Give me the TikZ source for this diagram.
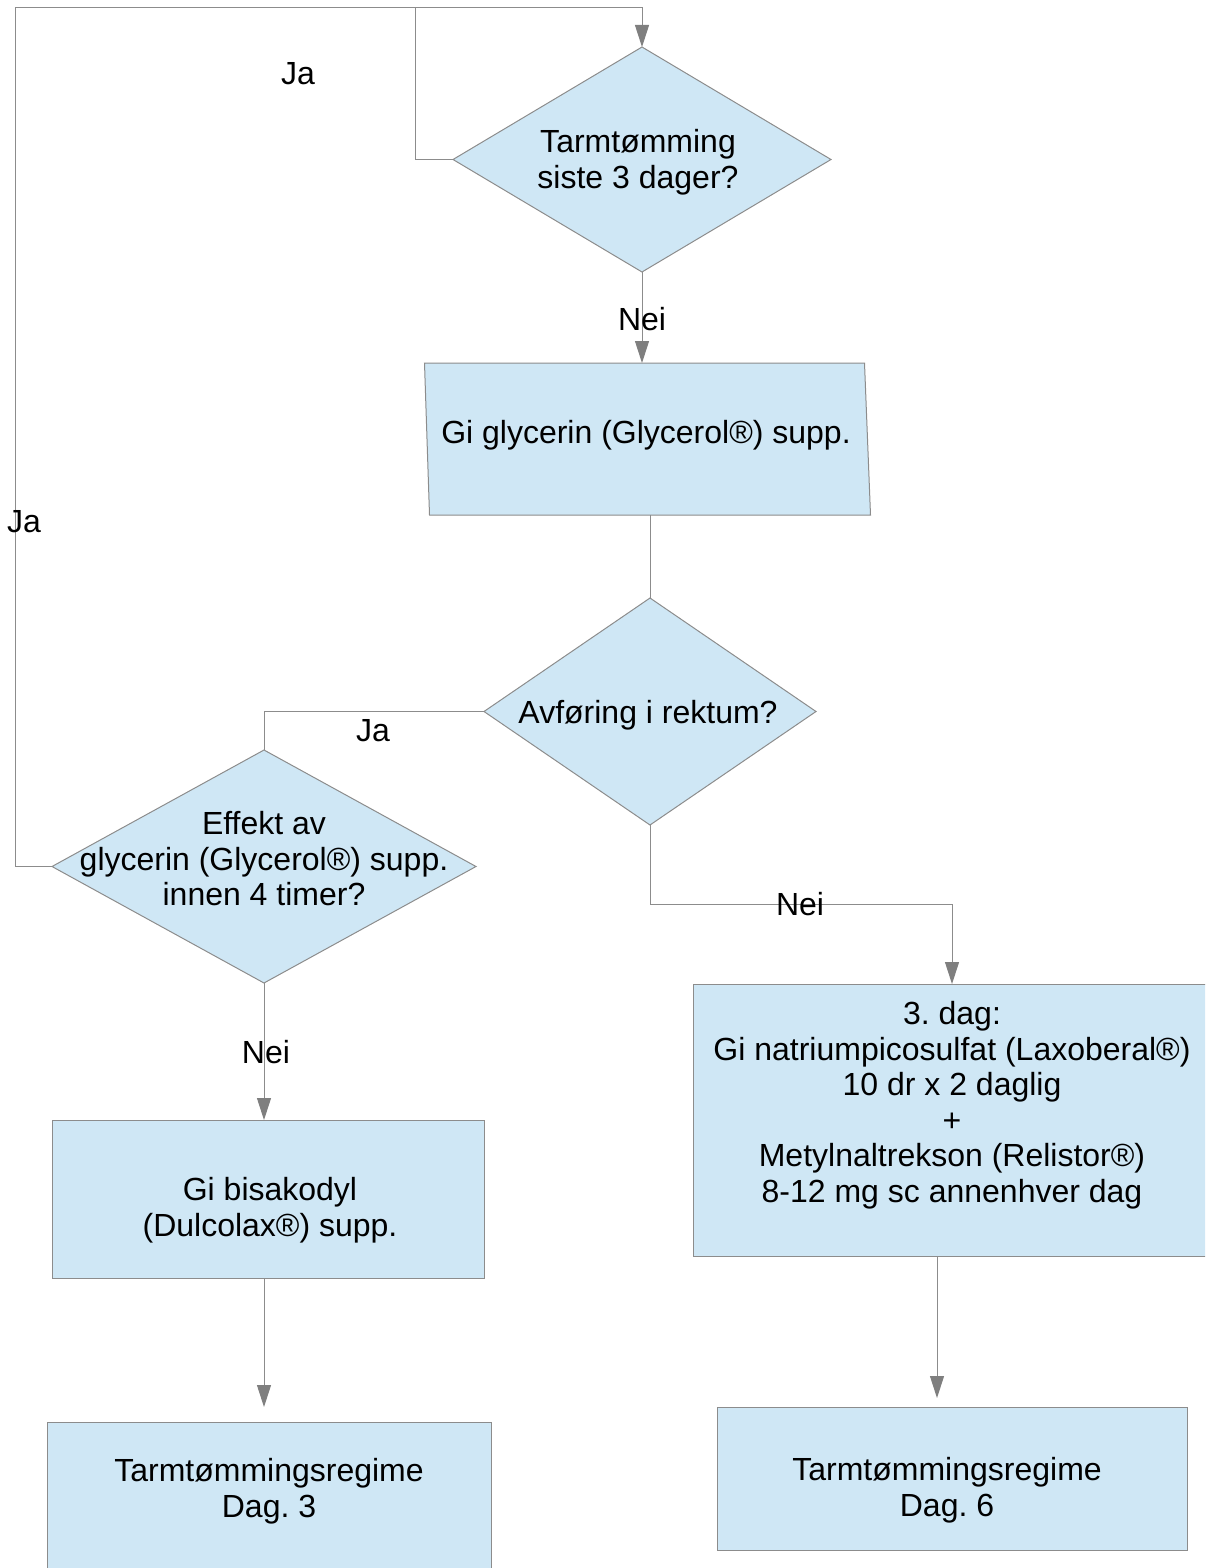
\documentclass[tikz,border=0pt]{standalone}
\usepackage{fontspec}
\setmainfont{Liberation Sans}
\usetikzlibrary{shapes.geometric,arrows.meta}
\frenchspacing
\definecolor{boxfill}{HTML}{CFE7F5}
\definecolor{lineg}{HTML}{8C8C8C}
\definecolor{tipg}{HTML}{7F7F7F}
\tikzset{
  every node/.style={font=\fontsize{32}{35.5}\selectfont},
  dia/.style={diamond, draw=lineg, fill=boxfill, line width=1pt, inner sep=0pt, outer sep=0pt},
  boxn/.style={rectangle, draw=lineg, fill=boxfill, line width=1pt, inner sep=0pt, outer sep=0pt},
  txt/.style={align=center, inner sep=0pt},
  lbl/.style={inner sep=0pt},
  conn/.style={draw=lineg, line width=1pt},
  arr/.style={conn, -{Triangle[length=22pt,width=14pt,fill=tipg,color=tipg]}},
}
\begin{document}
\begin{tikzpicture}[x=1pt,y=-1pt]
\useasboundingbox (0,0) rectangle (1205,1568);
\clip (0,0) rectangle (1205,1568);
% shapes
\node[dia, minimum width=378, minimum height=225] (d1) at (642,159.5) {};
\node[minimum width=441, minimum height=152, inner sep=0pt, outer sep=0pt] (b1) at (647,439) {};
\filldraw[draw=lineg, fill=boxfill, line width=1pt]
  ([xshift=-2]b1.north west) -- ([xshift=-3]b1.north east) -- ([xshift=3]b1.south east) -- ([xshift=3]b1.south west) -- cycle;
\node[dia, minimum width=332, minimum height=227] (d2) at (650,711.5) {};
\node[dia, minimum width=424, minimum height=233] (d3) at (264,866.5) {};
\node[boxn, minimum width=432, minimum height=158] (b2) at (268,1199) {};
\node[boxn, minimum width=444, minimum height=170] (b3) at (269,1507) {};
\node[boxn, minimum width=518, minimum height=272] (b4) at (952,1120) {};
\node[boxn, minimum width=470, minimum height=143] (b5) at (952,1478.5) {};
% texts
\node[txt] (t1) at (638,162) {Tarmtømming\\siste 3 dager?};
\node[txt] (t2) at (646,435) {Gi glycerin (Glycerol®) supp.};
\node[txt] (t3) at (648,715) {Avføring i rektum?};
\node[txt] (t4) at (264,859) {Effekt av\\glycerin (Glycerol®) supp.\\innen 4 timer?};
\node[txt] (t5) at (270,1210) {Gi bisakodyl\\(Dulcolax®) supp.};
\node[txt] (t6) at (269,1491) {Tarmtømmingsregime\\Dag. 3};
\node[txt] (t7) at (952,1105) {3. dag:\\Gi natriumpicosulfat (Laxoberal®)\\10 dr x 2 daglig\\+\\Metylnaltrekson (Relistor®)\\8-12 mg sc annenhver dag};
\node[txt] (t8) at (947,1490) {Tarmtømmingsregime\\Dag. 6};
% coordinates
\coordinate (cleft) at (15,8);
\coordinate (cmid) at (415,8);
\coordinate (cnei) at (952,904);
% connectors
\draw[arr] (d3.west) -| (cleft) -| (d1.north);
\draw[conn] (d1.west) -| (cmid);
\draw[arr] (d1.south) -- (d1.south |- b1.north);
\draw[conn] (b1.south -| d2.north) -- (d2.north);
\draw[conn] (d2.west) -| (d3.north);
\draw[arr] (d3.south) -- (d3.south |- b2.north);
\draw[arr] (b2.south -| d3.south) -- ([yshift=15]b3.north -| d3.south);
\draw[arr] (d2.south) |- (cnei) -- (b4.north);
\draw[arr] ([xshift=-15]b4.south) -- ([xshift=-15,yshift=9]b5.north);
% labels
\node[lbl] (l1) at (298,74) {Ja};
\node[lbl] (l2) at (24,522) {Ja};
\node[lbl] (l3) at (642,319) {Nei};
\node[lbl] (l4) at (373,731) {Ja};
\node[lbl] (l5) at (266,1052) {Nei};
\node[lbl] (l6) at (800,904) {Nei};
\end{tikzpicture}
\end{document}
